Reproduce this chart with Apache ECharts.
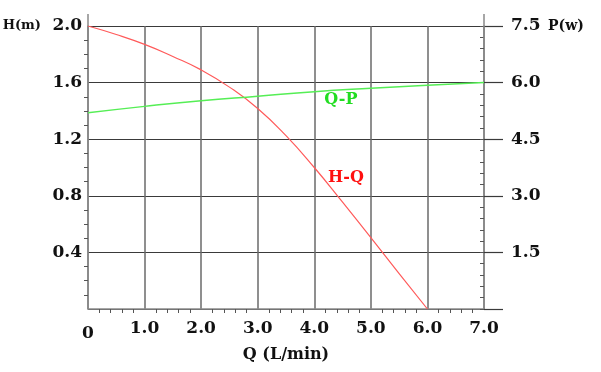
<!DOCTYPE html>
<html>
<head>
<meta charset="utf-8">
<script src="https://cdn.jsdelivr.net/npm/echarts@6/dist/echarts.min.js"></script>
<style>
html,body{margin:0;padding:0;background:#fff;}
#chart{width:601px;height:372px;}
</style>
</head>
<body>
<div id="chart"></div>
<script>
// Data
var flowHQ = [0, 0.5, 1.0, 1.5, 2.0, 2.5, 3.0, 3.5, 4.0, 4.5, 5.0, 5.5, 6.0];
var headHQ = [2.0, 1.94, 1.87, 1.785, 1.69, 1.568, 1.417, 1.225, 1.0, 0.755, 0.505, 0.25, 0.0];
var flowQP = [0, 1, 2, 3, 4, 5, 6, 7];
var powerQP = [5.2, 5.37, 5.52, 5.64, 5.76, 5.85, 5.93, 6.0];
var xTicks = ['0', '1.0', '2.0', '3.0', '4.0', '5.0', '6.0', '7.0'];
var hTicks = ['', '0.4', '0.8', '1.2', '1.6', '2.0'];
var pTicks = ['', '1.5', '3.0', '4.5', '6.0', '7.5'];
var seriesNames = ['H-Q', 'Q-P'];
var labelHQ = [4.56, 0.93];
var labelQP = [4.47, 5.53];

var FONT = 'DejaVu Serif';
function zip(a, b) { return a.map(function (v, i) { return [v, b[i]]; }); }

var chart = echarts.init(document.getElementById('chart'), null, {renderer: 'canvas'});
var axisGray = '#8a8a8a';
var lblStyle = {color: '#111', fontFamily: FONT, fontWeight: 'bold', fontSize: 17};

chart.setOption({
  backgroundColor: '#fff',
  animation: false,
  grid: {left: 88, right: 117, top: 26, bottom: 63, containLabel: false, outerBoundsMode: 'none'},
  xAxis: {
    type: 'value', min: 0, max: 7, interval: 1,
    name: 'Q (L/min)', nameLocation: 'middle', nameGap: 37,
    nameTextStyle: {color: '#111', fontFamily: FONT, fontWeight: 'bold', fontSize: 16},
    axisLine: {show: true, lineStyle: {color: axisGray, width: 1.5}},
    axisTick: {show: false},
    minorTick: {show: true, splitNumber: 5, length: 4, lineStyle: {color: '#555', width: 1}},
    axisLabel: Object.assign({
      margin: 11,
      formatter: function (v) {
        var s = xTicks[Math.round(v)];
        return v === 0 ? '{z|' + s + '}' : s;
      },
      rich: {z: {padding: [5, 0, 0, 0], color: '#111', fontFamily: FONT, fontWeight: 'bold', fontSize: 17}}
    }, lblStyle),
    splitLine: {show: true, lineStyle: {color: '#6a6a6a', width: 1.5}}
  },
  yAxis: [
    {
      type: 'value', min: 0, max: 2, interval: 0.4, position: 'left',
      name: 'H(m)', nameLocation: 'end', nameGap: 0,
      nameTextStyle: {color: '#111', fontFamily: FONT, fontWeight: 'bold', fontSize: 13,
        align: 'right', verticalAlign: 'middle', padding: [0, 47, 0, 0]},
      axisLine: {show: true, lineStyle: {color: axisGray, width: 1.5},
        symbol: ['none', 'rect'], symbolSize: [1.5, 24]},
      axisTick: {show: false},
      minorTick: {show: true, splitNumber: 4, length: 4, lineStyle: {color: '#555', width: 1}},
      axisLabel: Object.assign({
        margin: 6,
        formatter: function (v) { return hTicks[Math.round(v / 0.4)]; }
      }, lblStyle),
      splitLine: {show: true, lineStyle: {color: '#3a3a3a', width: 1.2}}
    },
    {
      type: 'value', min: 0, max: 7.5, interval: 1.5, position: 'right',
      name: 'P(w)', nameLocation: 'end', nameGap: 0,
      nameTextStyle: {color: '#111', fontFamily: FONT, fontWeight: 'bold', fontSize: 14,
        align: 'left', verticalAlign: 'middle', padding: [0, 0, 0, 64]},
      axisLine: {show: true, lineStyle: {color: axisGray, width: 1.5},
        symbol: ['none', 'rect'], symbolSize: [1.5, 24]},
      axisTick: {show: true, inside: true, length: 4, lineStyle: {color: '#555', width: 1}},
      minorTick: {show: true, splitNumber: 5, length: 4, lineStyle: {color: '#555', width: 1}},
      axisLabel: Object.assign({
        margin: 27,
        formatter: function (v) { return pTicks[Math.round(v / 1.5)]; }
      }, lblStyle),
      splitLine: {show: false}
    },
    {
      type: 'value', min: 0, max: 7.5, interval: 1.5, position: 'right', offset: 0,
      axisLine: {show: false},
      axisTick: {show: true, inside: false, length: 19, lineStyle: {color: '#3a3a3a', width: 1.2}},
      axisLabel: {show: false},
      splitLine: {show: false}
    }
  ],
  series: [
    {
      name: seriesNames[0], type: 'line', xAxisIndex: 0, yAxisIndex: 0,
      data: zip(flowHQ, headHQ), smooth: 0.5, showSymbol: false, symbol: 'none',
      lineStyle: {color: '#ff5a5a', width: 1.2},
      markPoint: {
        symbol: 'circle', symbolSize: 0,
        label: {show: true, position: 'inside', formatter: seriesNames[0],
          color: '#ff1010', fontFamily: FONT, fontWeight: 'bold', fontSize: 16},
        data: [{coord: labelHQ}]
      }
    },
    {
      name: seriesNames[1], type: 'line', xAxisIndex: 0, yAxisIndex: 1,
      data: zip(flowQP, powerQP), smooth: 0.5, showSymbol: false, symbol: 'none',
      lineStyle: {color: '#55ee55', width: 1.5},
      markPoint: {
        symbol: 'circle', symbolSize: 0,
        label: {show: true, position: 'inside', formatter: seriesNames[1],
          color: '#22dd22', fontFamily: FONT, fontWeight: 'bold', fontSize: 16},
        data: [{coord: labelQP}]
      }
    }
  ]
});
</script>
</body>
</html>
